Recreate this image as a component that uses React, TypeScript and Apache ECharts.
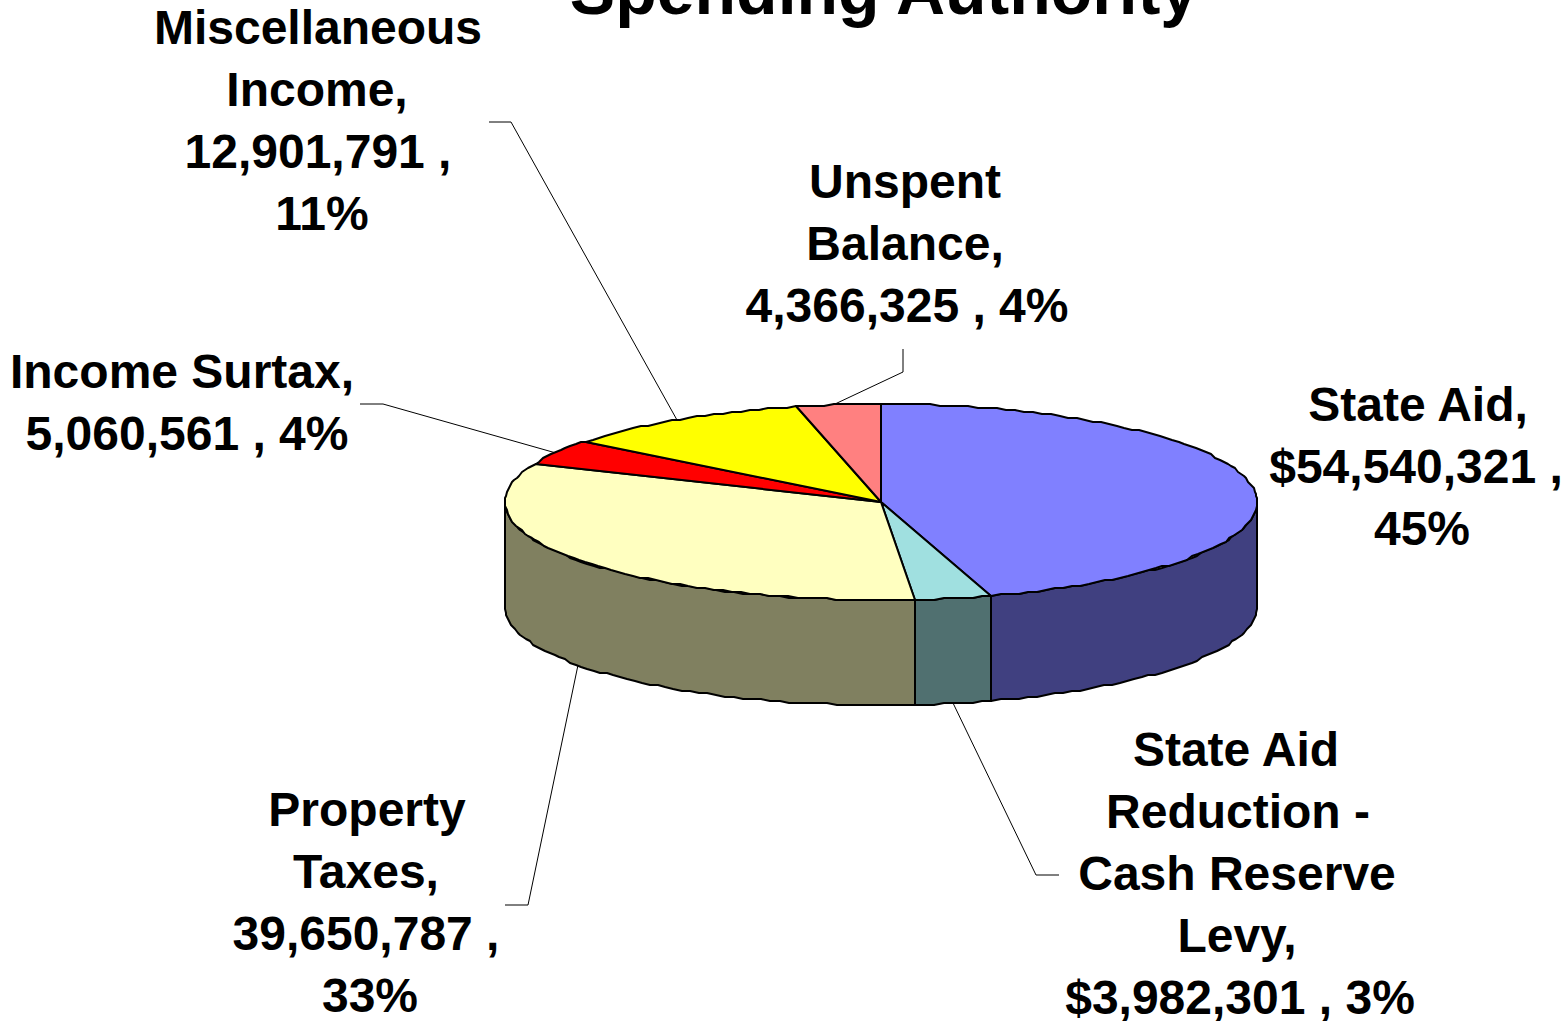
import React, { useEffect, useRef } from "react";
import * as echarts from "echarts";

const titleText = "Spending Authority";
const categories = ["State Aid", "State Aid Reduction - Cash Reserve Levy", "Property Taxes", "Income Surtax", "Miscellaneous Income", "Unspent Balance"];
const values = [54540321, 3982301, 39650787, 5060561, 12901791, 4366325];
const labelLines = [
  ["State Aid,", "$54,540,321 ,", "45%"],
  ["State Aid", "Reduction -", "Cash Reserve", "Levy,", "$3,982,301 , 3%"],
  ["Property", "Taxes,", "39,650,787 ,", "33%"],
  ["Income Surtax,", "5,060,561 , 4%"],
  ["Miscellaneous", "Income,", "12,901,791 ,", "11%"],
  ["Unspent", "Balance,", "4,366,325 , 4%"],
];
const topColors = ["#8080FF", "#A0E0E0", "#FFFFC0", "#FF0000", "#FFFF00", "#FF8080"];
const wallColors = ["#404080", "#507070", "#808060", "#800000", "#808000", "#804040"];

// layout only
const CX = 881, CY = 502, RX = 376, RY = 98, DEPTH = 105;
const FONT = "'Liberation Sans', Arial, sans-serif";
const labelAnchors = [
  { xs: [1418, 1416, 1422], y: 404 },
  { xs: [1236, 1238, 1237, 1237, 1240], y: 749 },
  { xs: [367, 366, 366, 370], y: 809 },
  { xs: [182, 187], y: 371 },
  { xs: [318, 317, 318, 322], y: 27 },
  { xs: [905, 905, 907], y: 181 },
];
const leaders: (number[][] | null)[] = [
  null,
  [[1059, 875], [1036, 875], [953, 703]],
  [[505, 905], [528, 905], [578, 665]],
  [[360, 404], [383, 404], [556, 453]],
  [[489, 122], [511, 122], [677, 420]],
  [[903, 349], [903, 372], [835, 404]],
];

const total = values.reduce((a, b) => a + b, 0);
const pt = (deg: number, dy = 0) => {
  const r = (deg * Math.PI) / 180;
  const x = CX + RX * Math.sin(r);
  const y = CY - RY * Math.cos(r);
  // the reference's outline is a coarse, stair-stepped polygon
  return [Math.round(x), Math.round(y / 2) * 2 + dy];
};
const arc = (a: number, b: number, dy = 0) => {
  const out: number[][] = [];
  const step = 1.5;
  const n = Math.max(1, Math.ceil((b - a) / step));
  for (let i = 0; i <= n; i++) out.push(pt(a + ((b - a) * i) / n, dy));
  return out;
};

function renderItem(params: any, api: any) {
  const i = params.dataIndex;
  const v = api.value(0);
  let before = 0;
  for (let k = 0; k < i; k++) before += values[k];
  const a0 = (before / total) * 360;
  const a1 = ((before + v) / total) * 360;
  const children: any[] = [];
  const lead = leaders[i];
  if (lead) {
    children.push({
      type: "polyline",
      shape: { points: lead },
      style: { stroke: "#000", lineWidth: 1, fill: "none" },
    });
  }
  const w0 = Math.max(a0, 90), w1 = Math.min(a1, 270);
  if (w1 > w0) {
    children.push({
      type: "polygon",
      shape: { points: [...arc(w0, w1), ...arc(w0, w1, DEPTH).reverse()] },
      style: { fill: wallColors[i], stroke: "#000", lineWidth: 2, lineJoin: "round" },
    });
  }
  children.push({
    type: "polygon",
    shape: { points: [[CX, CY], ...arc(a0, a1)] },
    style: { fill: topColors[i], stroke: "#000", lineWidth: 2, lineJoin: "round" },
  });
  const anchor = labelAnchors[i];
  labelLines[i].forEach((line, k) => {
    children.push({
      type: "text",
      x: anchor.xs[k],
      y: anchor.y + k * 62,
      style: {
        text: line,
        fill: "#000",
        font: `bold 48px ${FONT}`,
        align: "center",
        verticalAlign: "middle",
      },
    });
  });
  return { type: "group", children };
}

export default function App() {
  const ref = useRef<HTMLDivElement>(null);
  useEffect(() => {
    const chart = echarts.init(ref.current!, null, { renderer: "svg" });
    chart.setOption({
      animation: false,
      backgroundColor: "#fff",
      title: {
        text: titleText,
        left: 879,
        top: -49,
        textAlign: "center",
        textStyle: { fontFamily: FONT, fontWeight: "bold", fontSize: 68, color: "#000" },
      },
      series: [
        {
          type: "custom",
          name: "Spending Authority",
          coordinateSystem: "none",
          silent: true,
          clip: false,
          data: values.map((v, i) => ({ name: categories[i], value: [v] })),
          renderItem,
        },
      ],
    });
    return () => chart.dispose();
  }, []);
  return <div ref={ref} style={{ position: "fixed", left: 0, top: 0, width: 1567, height: 1021 }} />;
}
